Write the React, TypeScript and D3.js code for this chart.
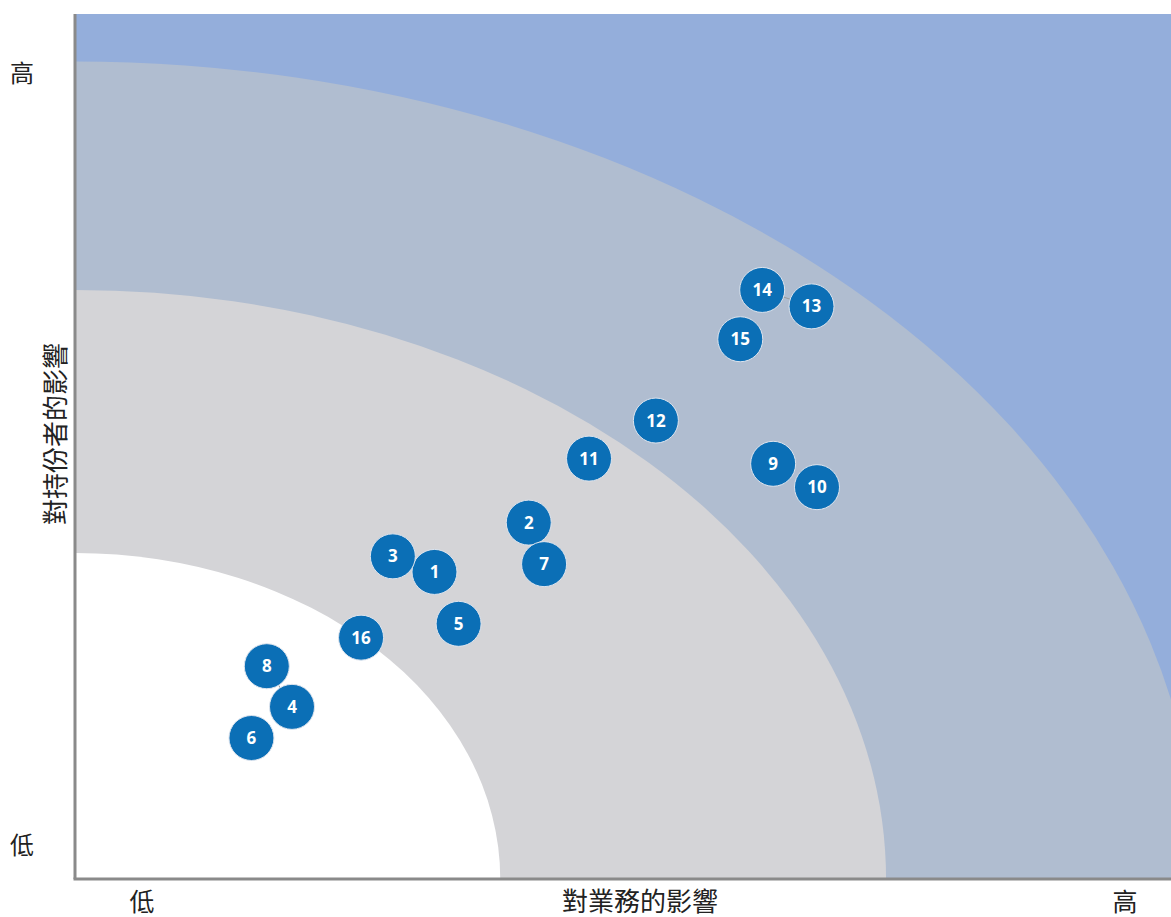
import React from "react";
import * as d3 from "d3";

const ids = [1, 2, 3, 4, 5, 6, 7, 8, 9, 10, 11, 12, 13, 14, 15, 16];
const businessImpact = [3.28, 4.14, 2.9, 1.98, 3.5, 1.61, 4.28, 1.75, 6.37, 6.77, 4.69, 5.3, 6.72, 6.27, 6.07, 2.61];
const stakeholderImpact = [3.55, 4.12, 3.73, 1.99, 2.95, 1.63, 3.64, 2.46, 4.8, 4.53, 4.86, 5.3, 6.62, 6.81, 6.24, 2.79];
const zoneRx = [10.25, 7.4, 3.88];
const zoneRy = [9.45, 6.81, 3.77];
const zoneColors = ["#B0BDD0", "#D4D4D7", "#FFFFFF"];
const links = [[14, 13], [8, 4]];
const xTickLabels = ["低", "高"];
const yTickLabels = ["低", "高"];
const xTitle = "對業務的影響";
const yTitle = "對持份者的影響";

const W = 1171, H = 917;
const left = 75, top = 14, right = 1171, bottom = 879;

export default function App() {
  const x = d3.scaleLinear().domain([0, 10]).range([left, right]);
  const y = d3.scaleLinear().domain([0, 10]).range([bottom, top]);
  const font = "'Noto Sans CJK TC', 'Noto Sans CJK SC', sans-serif";
  const pts = ids.map((id, i) => ({ id, x: businessImpact[i], y: stakeholderImpact[i] }));
  const byId = new Map(pts.map((p) => [p.id, p]));
  return (
    <div style={{ position: "absolute", left: 0, top: 0 }}>
      <svg width={W} height={H} style={{ display: "block" }}>
        <defs>
          <clipPath id="plot">
            <rect x={left} y={top} width={right - left} height={bottom - top} />
          </clipPath>
        </defs>
        <rect x={left} y={top} width={right - left} height={bottom - top} fill="#94AEDB" />
        <g clipPath="url(#plot)">
          {zoneRx.map((rx, i) => (
            <ellipse
              key={i}
              cx={x(0)}
              cy={y(0)}
              rx={x(rx) - x(0)}
              ry={y(0) - y(zoneRy[i])}
              fill={zoneColors[i]}
            />
          ))}
        </g>
        <line x1={left} y1={top} x2={left} y2={bottom} stroke="#8A8A8A" strokeWidth={3} />
        <line x1={left - 1.5} y1={bottom} x2={right} y2={bottom} stroke="#8A8A8A" strokeWidth={3} />
        {links.map(([a, b], i) => {
          const pa = byId.get(a)!, pb = byId.get(b)!;
          return (
            <line key={i} x1={x(pa.x)} y1={y(pa.y)} x2={x(pb.x)} y2={y(pb.y)} stroke="#9A9A9A" strokeWidth={1} />
          );
        })}
        {pts.map((p) => (
          <g key={p.id} transform={`translate(${x(p.x)},${y(p.y)})`}>
            <circle r={22.5} fill="#0B6FB6" stroke="#DDE4EE" strokeWidth={1} />
            <text
              textAnchor="middle"
              dy="0.36em"
              fill="#fff"
              fontFamily="'Open Sans', 'DejaVu Sans', sans-serif"
              fontWeight={700}
              fontSize={17}
            >
              {p.id}
            </text>
          </g>
        ))}
        <text x={142} y={911} textAnchor="middle" fontFamily={font} fontSize={25} fill="#222">{xTickLabels[0]}</text>
        <text x={1125} y={911} textAnchor="middle" fontFamily={font} fontSize={25} fill="#222">{xTickLabels[1]}</text>
        <text x={640} y={911} textAnchor="middle" fontFamily={font} fontSize={26} fill="#222">{xTitle}</text>
        <text x={22} y={854} textAnchor="middle" fontFamily={font} fontSize={24} fill="#222">{yTickLabels[0]}</text>
        <text x={22} y={82} textAnchor="middle" fontFamily={font} fontSize={24} fill="#222">{yTickLabels[1]}</text>
        <text
          transform="translate(65,434) rotate(-90)"
          textAnchor="middle"
          fontFamily={font}
          fontSize={26}
          fill="#222"
        >
          {yTitle}
        </text>
      </svg>
    </div>
  );
}
